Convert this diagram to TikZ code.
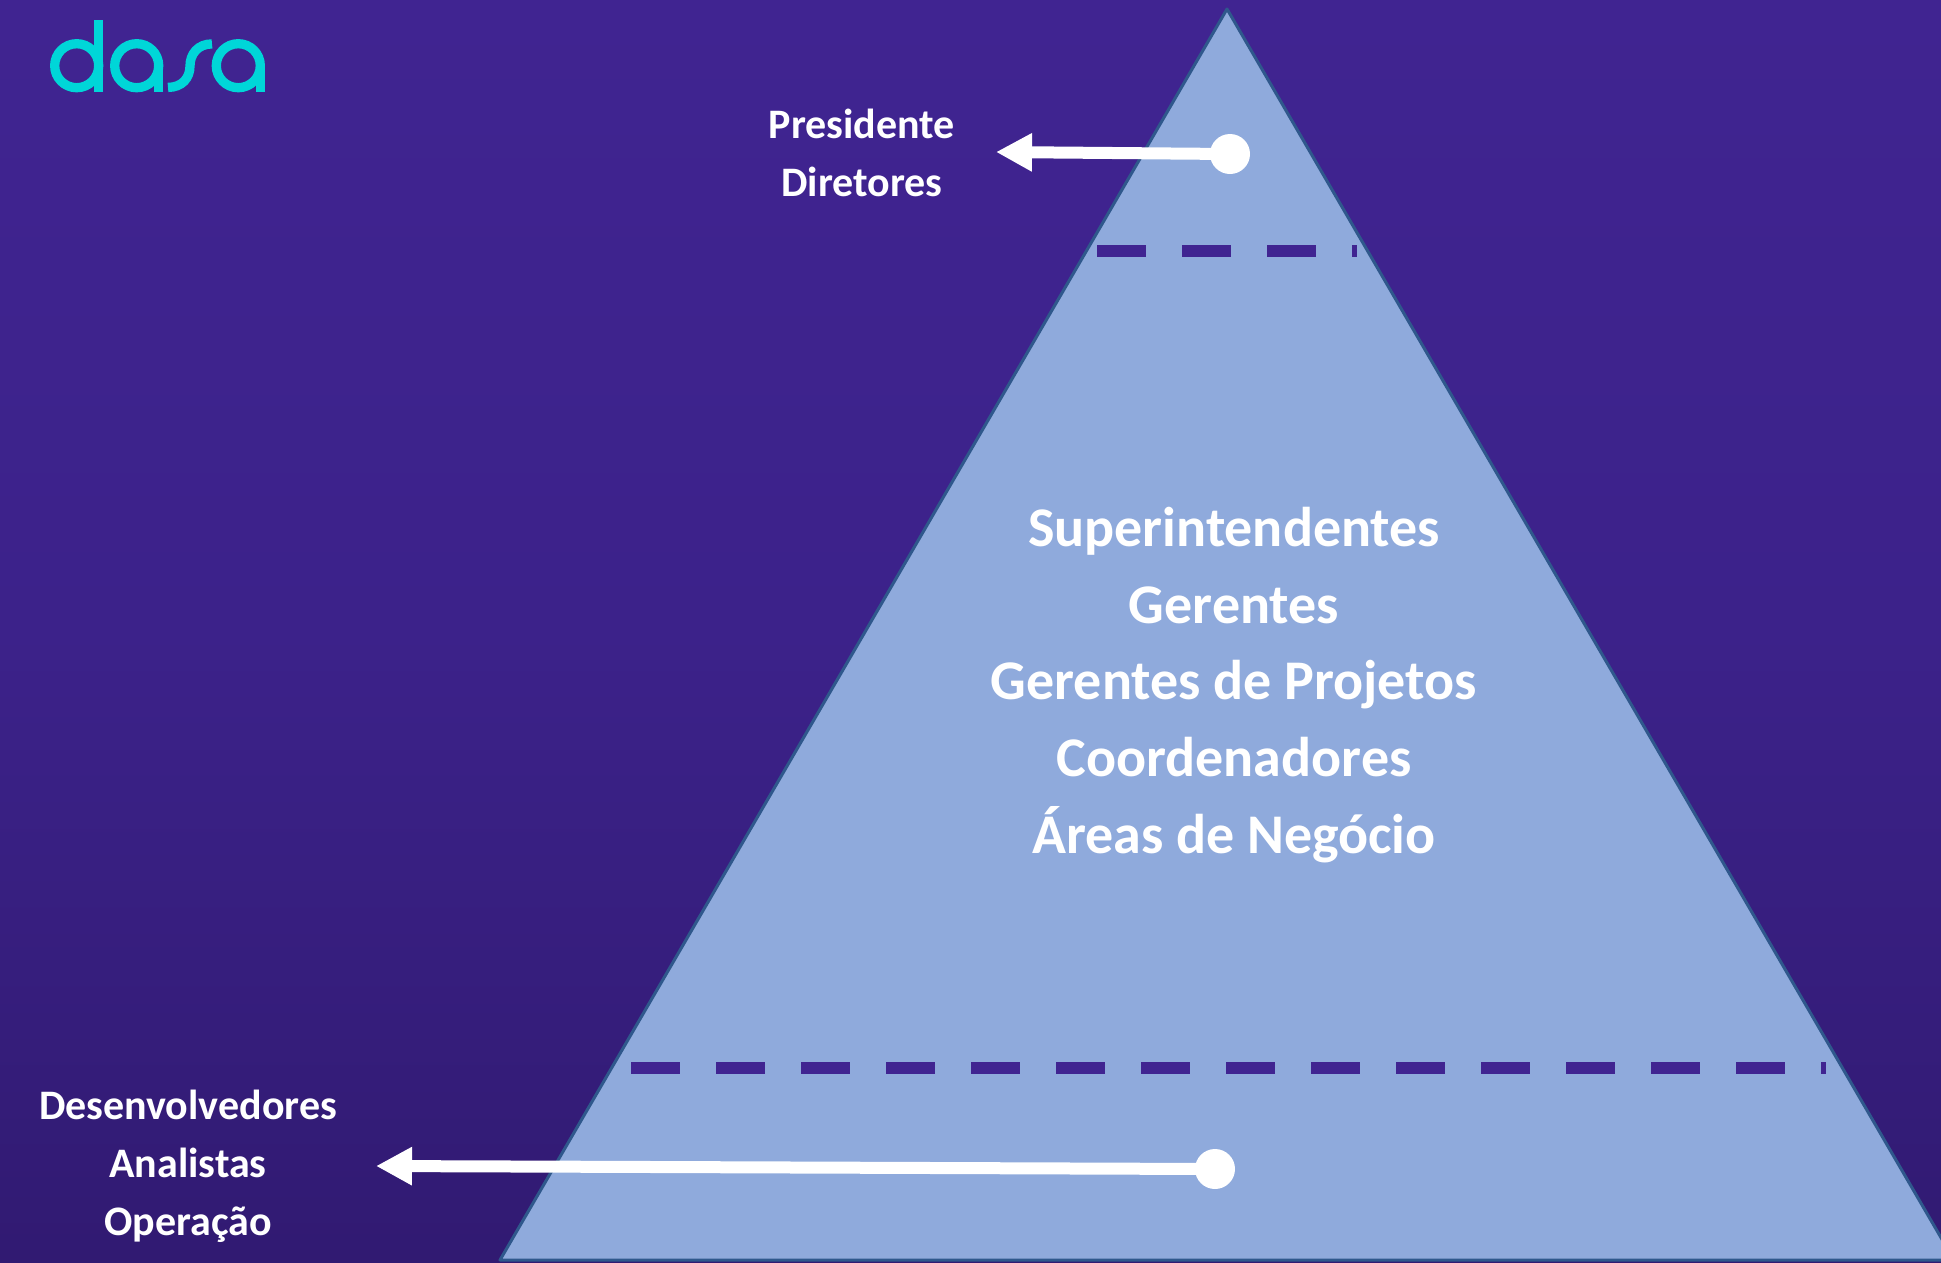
\documentclass[tikz,border=0pt]{standalone}
\usepackage{fontspec}
\setmainfont{Carlito}
\usetikzlibrary{arrows.meta}
\definecolor{bgtop}{RGB}{64,36,145}
\definecolor{bgmid}{RGB}{60,34,138}
\definecolor{bgbot}{RGB}{49,26,114}
\definecolor{pyr}{RGB}{143,170,220}
\definecolor{pyredge}{RGB}{47,88,140}
\definecolor{dashc}{RGB}{64,36,145}
\definecolor{logoc}{RGB}{0,214,216}
\tikzset{
  small label/.style={text=white,font=\fontsize{42}{58}\selectfont\bfseries,align=center,inner sep=0pt},
  big label/.style={text=white,font=\fontsize{56}{76.8}\selectfont\bfseries,align=center,inner sep=0pt},
  level line/.style={draw=dashc,line width=12pt,dash pattern=on 49pt off 36pt},
  dot/.style={circle,fill=white,minimum size=40pt,inner sep=0pt},
  pointer/.style={draw=white,line width=12pt,-{Triangle[length=36pt,width=36pt]},shorten <=-2pt},
  logo stroke/.style={draw=logoc,line width=9.3pt}
}
\begin{document}
\begin{tikzpicture}[x=1pt,y=-1pt]
\useasboundingbox (0,0) rectangle (1941,1262);
\shade[top color=bgtop,bottom color=bgbot,middle color=bgmid] (0,0) rectangle (1941,1262);
\draw[draw=pyredge,line width=3pt,fill=pyr,line join=round] (1227,9) -- (500,1260) -- (1954,1260) -- cycle;
% logo
\draw[logo stroke] (76.7,65.7) circle[radius=22];
\draw[logo stroke] (98.7,20) -- (98.7,92);
\draw[logo stroke] (136.7,65.7) circle[radius=22];
\draw[logo stroke] (158.7,65.7) -- (158.7,92);
\draw[logo stroke] (168,87.4) .. controls (182,87.4) and (190,78) .. (190,66) .. controls (190,54) and (198,43.9) .. (212,43.9);
\draw[logo stroke] (238.3,65.7) circle[radius=22];
\draw[logo stroke] (260.3,65.7) -- (260.3,92);
% dashed level lines
\coordinate (t1) at (1097,251);
\coordinate (t2) at (1357,251);
\coordinate (b1) at (631,1068);
\coordinate (b2) at (1826,1068);
\draw[level line] (t1) -- (t2);
\draw[level line] (b1) -- (b2);
% dots and arrows
\node[dot] (topdot) at (1230,154) {};
\node[dot] (botdot) at (1215,1169) {};
\coordinate (toptip) at (996,152);
\coordinate (bottip) at (376,1166);
\draw[pointer] (topdot.center) -- (toptip);
\draw[pointer] (botdot.center) -- (bottip);
% labels
\node[small label] (toplabel) at (862,153) {Presidente\\Diretores};
\node[small label] (botlabel) at (188,1166) {Desenvolvedores\\Analistas\\Operação};
\node[big label] (midlabel) at (1234,685) {Superintendentes\\Gerentes\\Gerentes de Projetos\\Coordenadores\\Áreas de Negócio};
\end{tikzpicture}
\end{document}
